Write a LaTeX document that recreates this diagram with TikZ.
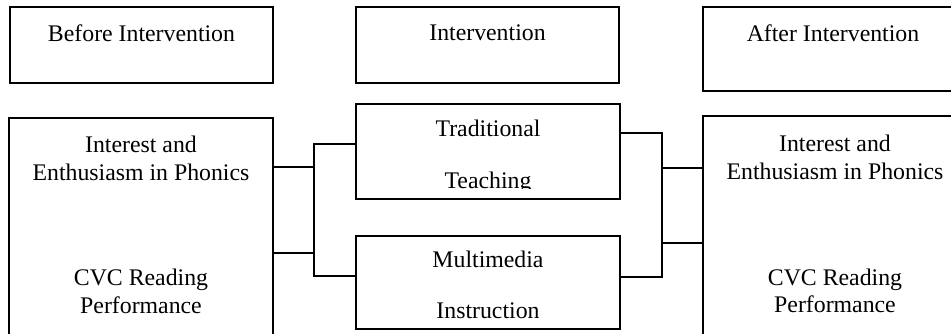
\documentclass[tikz,border=0pt]{standalone}
\usepackage{fontspec}
\setmainfont{Liberation Serif}
\begin{document}
\begin{tikzpicture}[x=1pt,y=-1pt,
  thinbox/.style={draw,line width=1.1pt,inner sep=0pt,outer sep=0pt},
  thickbox/.style={draw,line width=2pt,inner sep=0pt,outer sep=0pt},
  lbl/.style={anchor=base,inner sep=0pt,font=\fontsize{23.8}{28}\selectfont},
  conn/.style={draw,line width=1.1pt}]
\clip (0,0) rectangle (951,333);
% top headers
\node[thinbox,minimum width=263pt,minimum height=76pt] (before) at (141.5,45) {};
\node[thinbox,minimum width=263pt,minimum height=76pt] (interv) at (487.5,45) {};
\node[thinbox,minimum width=260pt,minimum height=84pt] (after) at (833,49) {};
\node[lbl] (tb) at (141.5,41) {Before Intervention};
\node[lbl] (ti) at (487.5,40) {Intervention};
\node[lbl] (ta) at (833,41) {After Intervention};
% main boxes
\node[thickbox,minimum width=264pt,minimum height=227pt] (L) at (141,231.5) {};
\node[thickbox,minimum width=264pt,minimum height=95pt] (T) at (488,151.5) {};
\node[thickbox,minimum width=264pt,minimum height=93pt] (M) at (488,282.5) {};
\node[thickbox,minimum width=262pt,minimum height=229pt] (R) at (834,230.5) {};
% texts
\node[lbl] (l1) at (141,152) {Interest and};
\node[lbl] (l2) at (141,180) {Enthusiasm in Phonics};
\node[lbl] (l3) at (141,285) {CVC Reading};
\node[lbl] (l4) at (141,313) {Performance};
\node[lbl] (t1) at (488,136) {Traditional};
\begin{scope}
\clip (357,105) rectangle (619,188.8);
\node[lbl] (t2) at (488,188) {Teaching};
\end{scope}
\node[lbl] (m1) at (488,267) {Multimedia};
\node[lbl] (m2) at (488,318) {Instruction};
\node[lbl] (r1) at (835,151) {Interest and};
\node[lbl] (r2) at (835,179) {Enthusiasm in Phonics};
\node[lbl] (r3) at (835,285) {CVC Reading};
\node[lbl] (r4) at (835,312) {Performance};
% left connectors
\coordinate (jlt) at (314,144);
\coordinate (jlb) at (314,276);
\coordinate (jla) at (314,167);
\coordinate (jlc) at (314,253);
\draw[conn] (T.west |- jlt) -- (jlt) -- (jlb) -- (M.west |- jlb);
\draw[conn] (L.east |- jla) -- (jla);
\draw[conn] (L.east |- jlc) -- (jlc);
% right connectors
\coordinate (jrt) at (662,133);
\coordinate (jrb) at (662,277);
\coordinate (jra) at (662,168);
\coordinate (jrc) at (662,243);
\draw[conn] (T.east |- jrt) -- (jrt) -- (jrb) -- (M.east |- jrb);
\draw[conn] (jra) -- (R.west |- jra);
\draw[conn] (jrc) -- (R.west |- jrc);
\end{tikzpicture}
\end{document}
